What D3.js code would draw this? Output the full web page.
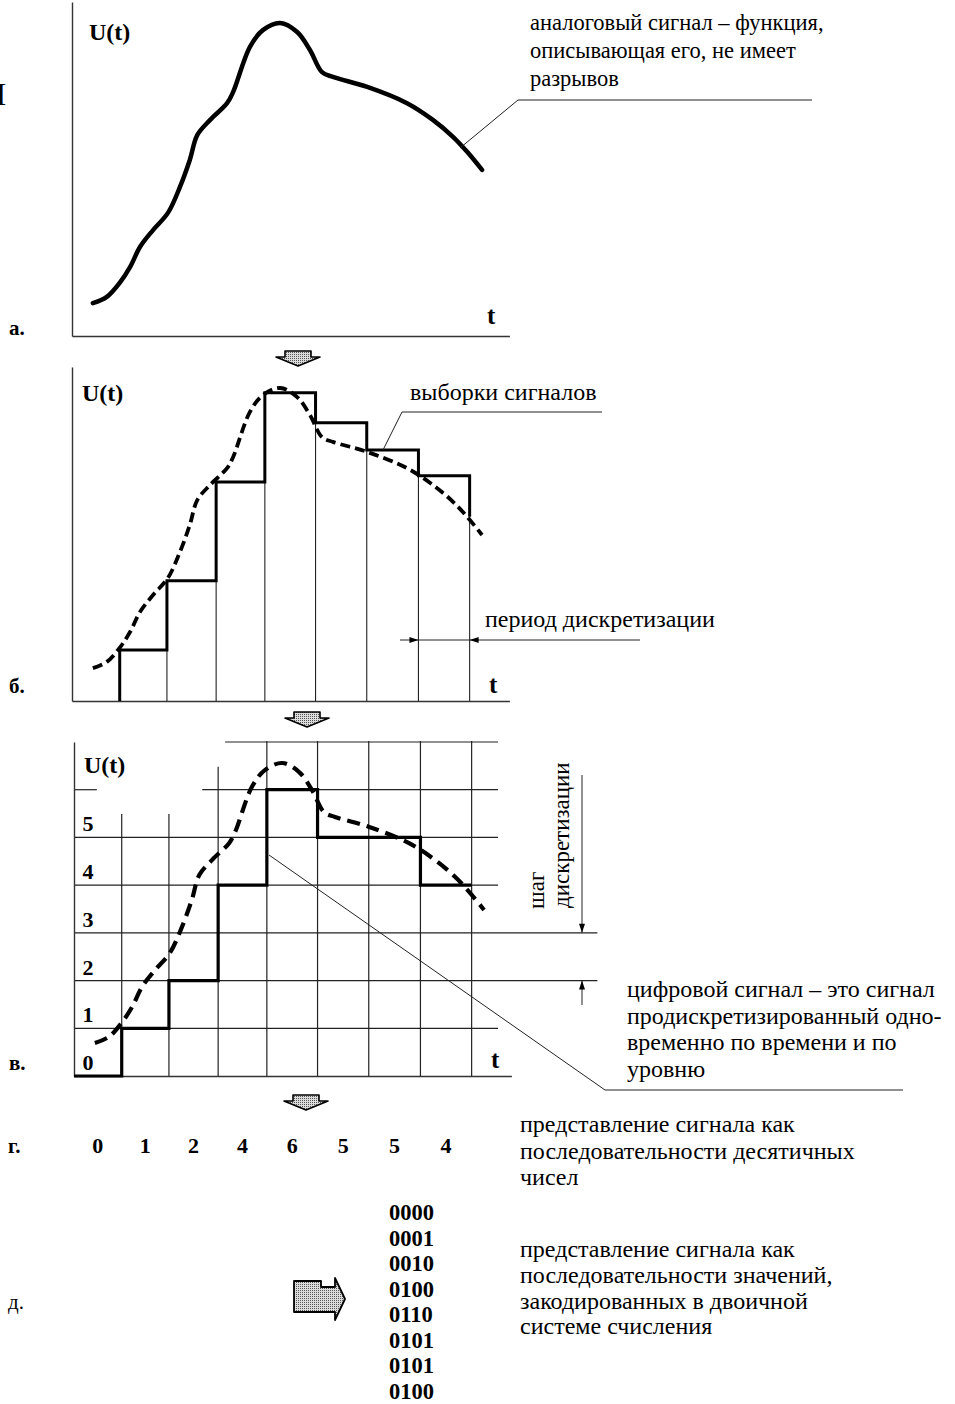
<!DOCTYPE html>
<html>
<head>
<meta charset="utf-8">
<script src="https://cdnjs.cloudflare.com/ajax/libs/d3/7.8.5/d3.min.js"></script>
<style>
  body { margin: 0; background: #fff; }
  svg text { font-family: "Liberation Serif", "Times New Roman", serif; fill: #000; }
  .bold { font-weight: bold; }
</style>
</head>
<body>
<svg id="chart" width="955" height="1404"></svg>
<script>
// analog signal: t in sampling periods, U in quantisation steps
const curveT = [0.42, 0.70, 0.97, 1.17, 1.37, 1.63, 1.93, 2.17, 2.37, 2.52, 2.78, 3.12, 3.24,
                3.58, 3.84, 4.19, 4.53, 4.79, 5.03, 5.25, 5.94, 6.74, 7.26, 7.67, 7.95, 8.25];
const curveU = [0.69, 0.82, 1.13, 1.45, 1.87, 2.22, 2.58, 3.12, 3.69, 4.21, 4.53, 4.88, 5.11,
                6.06, 6.41, 6.56, 6.37, 5.99, 5.53, 5.43, 5.22, 4.88, 4.53, 4.17, 3.86, 3.48];
// sampling moments (the grid verticals)
const sampleTimes = [0.96, 1.91, 2.90, 3.88, 4.90, 5.93, 6.97, 8.00];
// held sample values of panel б, and where the last hold drops back to the curve
const sampleValues = [1.07, 2.52, 4.59, 6.46, 5.83, 5.26, 4.72];
const sampleEnd = 3.86;
// quantised levels of panel в / г
const levelCodes = [0, 1, 2, 4, 6, 5, 5, 4];
const levelTicks = [0, 1, 2, 3, 4, 5];
const binaryCodes = ["0000", "0001", "0010", "0100", "0110", "0101", "0101", "0100"];

const svg = d3.select("#chart");

const defs = svg.append("defs");
const pat = defs.append("pattern").attr("id", "stipple")
    .attr("width", 2).attr("height", 2).attr("patternUnits", "userSpaceOnUse");
pat.append("rect").attr("width", 2).attr("height", 2).attr("fill", "#dcdcdc");
pat.append("rect").attr("width", 1).attr("height", 1).attr("fill", "#555");

// three panels share the same scales, only the origin moves
const panels = [
    {key: "a", x0: 72, bottom: 336},
    {key: "b", x0: 72, bottom: 701},
    {key: "v", x0: 74, bottom: 1076}
];
panels.forEach(function(p) {
    p.x = d3.scaleLinear().domain([0, 8.8]).range([p.x0, p.x0 + 437.4]);
    p.y = d3.scaleLinear().domain([0, 7]).range([p.bottom, p.bottom - 334]);
});

const curveData = curveT.map((t, i) => ({t: t, u: curveU[i]}));

function drawAxes(g, p) {
    g.append("g").attr("transform", "translate(0," + p.bottom + ")")
        .call(d3.axisBottom(p.x).tickValues([]).tickSizeOuter(0))
        .select(".domain").attr("stroke", "#333").attr("stroke-width", 1.4);
    g.append("g").attr("transform", "translate(" + p.x0 + ",0)")
        .call(d3.axisLeft(p.y).tickValues([]).tickSizeOuter(0))
        .select(".domain").attr("stroke", "#333").attr("stroke-width", 1.4);
}

function analogLine(p) {
    return d3.line().x(d => p.x(d.t)).y(d => p.y(d.u)).curve(d3.curveCatmullRom.alpha(0.5));
}

function addText(g, x, y, str, size, cls) {
    return g.append("text").attr("x", x).attr("y", y)
        .attr("font-size", size).attr("class", cls || null).text(str);
}

function thin(g, x1, y1, x2, y2, w) {
    g.append("line").attr("x1", x1).attr("y1", y1).attr("x2", x2).attr("y2", y2)
        .attr("stroke", "#222").attr("stroke-width", w || 1);
}

function downArrow(cx, y0) {
    svg.append("path")
        .attr("d", "M" + (cx - 13) + "," + y0 + "H" + (cx + 13) + "V" + (y0 + 6) + "H" + (cx + 22) +
            "L" + cx + "," + (y0 + 15) + "L" + (cx - 22) + "," + (y0 + 6) + "H" + (cx - 13) + "Z")
        .attr("fill", "url(#stipple)").attr("stroke", "#000").attr("stroke-width", 1.6)
        .attr("stroke-linejoin", "round");
}

// ---------- а. analog signal ----------
const pa = panels[0];
const ga = svg.append("g");
drawAxes(ga, pa);
ga.append("path").datum(curveData).attr("d", analogLine(pa))
    .attr("fill", "none").attr("stroke", "#000").attr("stroke-width", 4.5).attr("stroke-linecap", "round");
addText(ga, 89, 40, "U(t)", 24, "bold");
addText(ga, 487, 324, "t", 25, "bold");
addText(svg, 9, 335, "а.", 21, "bold");
addText(svg, -17, 105, "Н", 32);

thin(ga, 460, 148, 518, 100, 1);
thin(ga, 518, 100, 812, 100, 1);
["аналоговый сигнал – функция,", "описывающая его, не имеет", "разрывов"].forEach(function(s, i) {
    addText(ga, 530, 30 + i * 28, s, 22.5);
});

downArrow(298, 351);

// ---------- б. samples ----------
const pb = panels[1];
const gb = svg.append("g");
drawAxes(gb, pb);
// sampling verticals
sampleTimes.slice(1).forEach(function(t, i) {
    const top = i + 1 < sampleValues.length ? sampleValues[i + 1] : sampleEnd;
    thin(gb, pb.x(t), pb.y(0), pb.x(t), pb.y(top), 1.1);
});
// sample-and-hold staircase
const holdPts = [{t: sampleTimes[0], u: 0}]
    .concat(sampleValues.map((v, i) => ({t: sampleTimes[i], u: v})))
    .concat([{t: sampleTimes[7], u: sampleEnd}]);
gb.append("path").datum(holdPts)
    .attr("d", d3.line().x(d => pb.x(d.t)).y(d => pb.y(d.u)).curve(d3.curveStepAfter))
    .attr("fill", "none").attr("stroke", "#000").attr("stroke-width", 3);
gb.append("path").datum(curveData).attr("d", analogLine(pb))
    .attr("fill", "none").attr("stroke", "#000").attr("stroke-width", 3.8)
    .attr("stroke-dasharray", "10,5");
addText(gb, 82, 401, "U(t)", 24, "bold");
addText(gb, 489, 693, "t", 25, "bold");
addText(svg, 9, 693, "б.", 21, "bold");

thin(gb, 383, 450, 402, 412, 1);
thin(gb, 402, 412, 602, 412, 1);
addText(gb, 410, 400, "выборки сигналов", 24);

// period dimension
const dimY = 640;
const xa = pb.x(sampleTimes[6]), xb = pb.x(sampleTimes[7]);
thin(gb, 400, dimY, 640, dimY, 1);
gb.append("path").attr("d", "M" + xa + "," + dimY + "l-9,-3v6z").attr("fill", "#000");
gb.append("path").attr("d", "M" + xb + "," + dimY + "l9,-3v6z").attr("fill", "#000");
addText(gb, 485, 627, "период дискретизации", 24);

downArrow(307, 712);

// ---------- в. digital signal ----------
const pv = panels[2];
const gv = svg.append("g");
// horizontal grid: [level, tStart, tEnd]
const hGrid = [[7, 3.04, 8.53], [6, 0, 0.46], [6, 2.58, 8.53], [5, 0, 8.53], [4, 0, 8.53],
               [3, 0, 10.53], [2, 0, 10.53], [1, 0, 8.53]];
hGrid.forEach(function(h) {
    thin(gv, pv.x(h[1]), pv.y(h[0]), pv.x(h[2]), pv.y(h[0]), 1.2);
});
// vertical grid tops
const vGridTop = [5.49, 5.49, 6.48, 7.02, 7.02, 7.02, 7.02, 7.02];
sampleTimes.forEach(function(t, i) {
    thin(gv, pv.x(t), pv.y(0), pv.x(t), pv.y(vGridTop[i]), 1.2);
});
drawAxes(gv, pv);

const stepPts = [{t: 0, u: levelCodes[0]}]
    .concat(levelCodes.slice(1).map((v, i) => ({t: sampleTimes[i], u: v})))
    .concat([{t: sampleTimes[7], u: levelCodes[7]}]);
gv.append("path").datum(stepPts)
    .attr("d", d3.line().x(d => pv.x(d.t)).y(d => pv.y(d.u)).curve(d3.curveStepAfter))
    .attr("fill", "none").attr("stroke", "#000").attr("stroke-width", 3.2);
gv.append("path").datum(curveData).attr("d", analogLine(pv))
    .attr("fill", "none").attr("stroke", "#000").attr("stroke-width", 4.2)
    .attr("stroke-dasharray", "13,7");

gv.selectAll("text.level").data(levelTicks).enter().append("text")
    .attr("class", "level bold")
    .attr("x", pv.x0 + 14).attr("y", d => pv.y(d) - 6)
    .attr("text-anchor", "middle").attr("font-size", 22)
    .text(d => d);
addText(gv, 84, 773, "U(t)", 24, "bold");
addText(gv, 491, 1068, "t", 25, "bold");
addText(svg, 9, 1070, "в.", 21, "bold");

// quantisation step dimension
const dimX = 582;
thin(gv, dimX, 775, dimX, pv.y(3), 1);
gv.append("path").attr("d", "M" + dimX + "," + pv.y(3) + "l-3,-9h6z").attr("fill", "#000");
thin(gv, dimX, 1005, dimX, pv.y(2), 1);
gv.append("path").attr("d", "M" + dimX + "," + pv.y(2) + "l-3,9h6z").attr("fill", "#000");
gv.append("text").attr("transform", "translate(544,909) rotate(-90)")
    .attr("font-size", 23).text("шаг");
gv.append("text").attr("transform", "translate(569,908) rotate(-90)")
    .attr("font-size", 23).text("дискретизации");

thin(gv, 269, 855, 605, 1090, 1);
thin(gv, 605, 1090, 903, 1090, 1);
["цифровой сигнал – это сигнал", "продискретизированный одно-", "временно по времени и по", "уровню"]
    .forEach(function(s, i) { addText(gv, 627, 997 + i * 26.7, s, 24); });

downArrow(306, 1095);

// ---------- г. decimal sequence ----------
const gg = svg.append("g");
gg.selectAll("text.code").data(levelCodes).enter().append("text")
    .attr("class", "code bold")
    .attr("x", (d, i) => pv.x(((i === 0 ? 0 : sampleTimes[i - 1]) + sampleTimes[i]) / 2))
    .attr("y", 1153).attr("text-anchor", "middle").attr("font-size", 22)
    .text(d => d);
addText(svg, 8, 1153, "г.", 21, "bold");
["представление сигнала как", "последовательности десятичных", "чисел"].forEach(function(s, i) {
    addText(gg, 520, 1132 + i * 26.5, s, 24);
});

// ---------- д. binary sequence ----------
const gd = svg.append("g");
gd.append("path")
    .attr("d", "M294,1281H321V1287H335V1278L345,1299L335,1320V1312H294Z")
    .attr("fill", "url(#stipple)").attr("stroke", "#000").attr("stroke-width", 1.8)
    .attr("stroke-linejoin", "round");
gd.selectAll("text.bin").data(binaryCodes).enter().append("text")
    .attr("class", "bin bold")
    .attr("x", 389).attr("y", (d, i) => 1220 + i * 25.5)
    .attr("font-size", 22.5).text(d => d);
addText(svg, 8, 1309, "д.", 21);
["представление сигнала как", "последовательности значений,", "закодированных в двоичной", "системе счисления"]
    .forEach(function(s, i) { addText(gd, 520, 1257 + i * 25.8, s, 24); });
</script>
</body>
</html>
